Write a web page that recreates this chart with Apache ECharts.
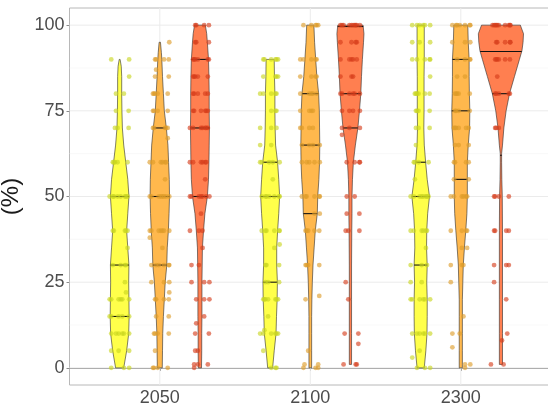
<!DOCTYPE html>
<html><head><meta charset="utf-8">
<script src="https://cdn.jsdelivr.net/npm/echarts@6/dist/echarts.min.js"></script>
<style>html,body{margin:0;padding:0;background:#fff}#c{width:548px;height:412px}</style>
</head><body><div id="c"></div><script>
// ---- data ----
const categories = ['2050', '2100', '2300'];
const yTicks = [0, 25, 50, 75, 100];
const yMinorGrid = [12.5, 37.5, 62.5, 87.5];

// violin density profiles: [value, relative width]
const prof2050Y = [[90,.02],[88,.07],[85,.09],[80,.09],[75,.10],[70,.12],[65,.18],[60,.27],[55,.36],[50,.41],[45,.36],[40,.31],[35,.36],[30,.41],[25,.40],[20,.41],[15,.42],[10,.40],[5,.31],[0,.18]];
const prof2050O = [[95,.03],[92,.07],[90,.09],[85,.12],[80,.16],[75,.20],[70,.29],[65,.36],[60,.39],[55,.42],[50,.43],[45,.41],[40,.38],[35,.33],[30,.31],[25,.24],[20,.20],[15,.16],[10,.13],[5,.12],[0,.11]];
const prof2050R = [[100,.24],[97.5,.30],[95,.33],[90,.38],[85,.40],[80,.41],[75,.41],[70,.42],[65,.41],[60,.40],[55,.38],[50,.33],[45,.22],[40,.16],[35,.11],[30,.10],[25,.09],[20,.09],[15,.09],[10,.08],[5,.08],[0,.07]];
const prof2100Y = [[90,.18],[85,.19],[80,.21],[75,.21],[70,.22],[65,.24],[60,.33],[55,.38],[50,.42],[45,.38],[40,.33],[35,.29],[30,.29],[25,.32],[20,.31],[15,.28],[10,.26],[5,.18],[0,.11]];
const prof2100O = [[100,.16],[95,.19],[90,.24],[85,.29],[80,.37],[75,.40],[70,.41],[65,.42],[60,.41],[55,.38],[50,.33],[45,.31],[40,.22],[35,.17],[30,.12],[25,.09],[20,.07],[15,.06],[10,.06],[5,.06],[0,.06]];
const prof2100R = [[100,.56],[97.5,.60],[95,.58],[90,.53],[85,.49],[80,.46],[75,.40],[70,.33],[65,.22],[60,.13],[55,.09],[50,.07],[45,.07],[40,.06],[30,.05],[20,.05],[10,.05],[1,.05]];
const prof2300Y = [[100,.16],[95,.16],[90,.16],[85,.15],[80,.15],[75,.15],[70,.14],[65,.16],[60,.22],[55,.29],[50,.39],[45,.31],[40,.27],[35,.26],[30,.29],[25,.27],[20,.29],[15,.29],[10,.28],[5,.23],[0,.16]];
const prof2300O = [[100,.31],[95,.33],[90,.37],[85,.37],[80,.38],[75,.40],[70,.39],[65,.33],[60,.29],[55,.29],[50,.29],[45,.27],[40,.22],[35,.16],[30,.11],[25,.09],[20,.07],[15,.07],[10,.07],[5,.07],[0,.07]];
const prof2300R = [[100,.86],[97.5,1.0],[95,.98],[92.5,.93],[90,.82],[85,.60],[80,.38],[75,.23],[70,.13],[65,.07],[62.5,.03],[60,.03],[55,.04],[50,.06],[40,.07],[30,.07],[20,.07],[10,.07],[1,.07]];

// quantile lines (25%, 50%, 75%)
const q2050Y = [15, 30, 50], q2050O = [30, 50, 70], q2050R = [50, 70, 90];
const q2100Y = [25, 50, 60], q2100O = [45, 65, 80], q2100R = [70, 80, 99.6];
const q2300Y = [30, 50, 60], q2300O = [55, 75, 90], q2300R = [62, 80, 92.3];

// observations: [value, count]
const pts2050Y = [[90,2],[85,1],[80,2],[75,2],[70,3],[60,5],[50,8],[40,5],[35,1],[30,4],[25,1],[22,1],[20,6],[15,5],[10,6],[5,3],[0,3]];
const pts2050O = [[95,1],[90,4],[87,1],[85,2],[80,5],[75,4],[70,5],[67,1],[60,6],[55,1],[50,8],[40,7],[38,1],[35,1],[30,6],[25,3],[22,1],[20,4],[15,2],[10,4],[5,1],[0,4]];
const pts2050R = [[100,4],[95,3],[90,6],[85,5],[80,5],[75,6],[70,7],[60,6],[55,1],[50,7],[45,1],[40,3],[35,1],[30,2],[25,3],[20,3],[15,1],[13,1],[10,2],[5,2],[1,3],[0,1]];
const pts2100Y = [[90,6],[85,4],[80,5],[75,3],[70,3],[65,2],[60,5],[55,1],[50,7],[40,6],[36,1],[35,1],[30,3],[25,3],[20,7],[15,1],[11,1],[10,6],[5,1],[0,3]];
const pts2100O = [[100,5],[90,5],[85,4],[80,5],[75,4],[70,4],[65,4],[60,5],[50,6],[45,2],[40,5],[30,4],[21,1],[20,1],[5,1],[1,2],[0,3]];
const pts2100R = [[100,10],[95,4],[90,5],[85,3],[80,6],[75,4],[70,3],[68,1],[60,4],[50,2],[45,2],[40,3],[25,1],[20,1],[10,2],[7,1],[1,3]];
const pts2300Y = [[100,6],[95,3],[90,5],[85,1],[80,6],[75,4],[70,3],[65,1],[60,4],[55,1],[50,8],[40,6],[35,1],[30,3],[25,2],[20,6],[10,6],[5,1],[3,1],[0,3]];
const pts2300O = [[100,7],[95,3],[90,4],[85,2],[80,5],[75,4],[70,6],[65,3],[60,4],[55,2],[50,6],[40,4],[35,2],[30,3],[25,1],[15,1],[10,2],[6,1],[1,2],[0,1]];
const pts2300R = [[100,10],[95,5],[90,6],[85,1],[80,5],[70,3],[50,4],[40,4],[30,3],[25,1],[20,1],[10,1],[8,1],[1,2]];

// ---- assembly ----
const profiles = [prof2050Y, prof2050O, prof2050R, prof2100Y, prof2100O, prof2100R, prof2300Y, prof2300O, prof2300R];
const quantiles = [q2050Y, q2050O, q2050R, q2100Y, q2100O, q2100R, q2300Y, q2300O, q2300R];
const points = [pts2050Y, pts2050O, pts2050R, pts2100Y, pts2100O, pts2100R, pts2300Y, pts2300O, pts2300R];

const fills = ['#ffff4a', '#ffb84d', '#ff7f50'];
const pointColors = ['rgba(200,214,30,0.78)', 'rgba(222,155,40,0.78)', 'rgba(214,60,25,0.78)'];
const DODGE = 0.8 / 3;
const HALF = 0.15;
const JIT = 0.07;
const jitterPattern = [-0.8, 0.6, -0.2, 0.9, 0.1, -0.55, 0.4, -0.95, 0.75, -0.35, 0.25, -0.65, 0.85, -0.1, 0.5, -0.45];

function widthAt(prof, y) {
  for (let i = 0; i < prof.length - 1; i++) {
    const [y0, w0] = prof[i], [y1, w1] = prof[i + 1];
    if (y <= y0 && y >= y1) {
      const t = (y0 - y) / ((y0 - y1) || 1);
      return w0 + (w1 - w0) * t;
    }
  }
  return y > prof[0][0] ? prof[0][1] : prof[prof.length - 1][1];
}

const violinItems = profiles.map((p, i) => {
  const c = Math.floor(i / 3), g = i % 3;
  return [c + 1 + (g - 1) * DODGE, 50, i];
});

const scatterSeries = [0, 1, 2].map(g => {
  const data = [];
  [0, 1, 2].forEach(c => {
    const list = points[c * 3 + g];
    let k = c * 5 + g * 3;
    list.forEach(([v, n], vi) => {
      for (let j = 0; j < n; j++) {
        const off = jitterPattern[(k + j * 3 + vi) % jitterPattern.length];
        data.push([c + 1 + (g - 1) * DODGE + off * JIT, v]);
      }
      k += 2;
    });
  });
  return {
    type: 'scatter', data, symbolSize: 4.8, z: 5,
    itemStyle: { color: pointColors[g], borderWidth: 0 },
    silent: true, animation: false
  };
});

const chart = echarts.init(document.getElementById('c'), null, { renderer: 'canvas' });
const FONT = 'Liberation Sans, Arial, Helvetica, sans-serif';
chart.setOption({
  animation: false,
  backgroundColor: '#ffffff',
  grid: { left: 69.5, top: 8, width: 481.6, height: 377, show: true, borderColor: '#b8b8b8', borderWidth: 1, backgroundColor: 'transparent', containLabel: false, outerBoundsMode: 'none' },
  xAxis: {
    type: 'value', min: 0.4, max: 3.6,
    axisLine: { show: true, lineStyle: { color: '#8c8c8c', width: 1 } },
    axisTick: { show: true, customValues: [1, 2, 3], length: 3, lineStyle: { color: '#8c8c8c' } },
    axisLabel: { customValues: [1, 2, 3], formatter: v => categories[Math.round(v) - 1], fontSize: 18, color: '#4d4d4d', fontFamily: FONT, margin: 4 },
    splitLine: { show: false }
  },
  yAxis: {
    type: 'value', min: -5, max: 105,
    name: '(%)', nameLocation: 'middle', nameRotate: 90, nameGap: 29,
    nameTextStyle: { fontSize: 24, color: '#1a1a1a', fontFamily: FONT },
    axisLine: { show: false },
    axisTick: { show: true, customValues: yTicks, length: 3, lineStyle: { color: '#8c8c8c' } },
    axisLabel: { customValues: yTicks, fontSize: 18, color: '#4d4d4d', fontFamily: FONT, margin: 5 },
    splitLine: { show: false }
  },
  series: [
    {
      type: 'custom', z: 1, silent: true, data: [[1, 50]],
      renderItem: (params, api) => {
        const cs = params.coordSys;
        const ch = [];
        yMinorGrid.forEach(v => { const y = api.coord([1, v])[1]; ch.push({ type: 'line', shape: { x1: cs.x, y1: y, x2: cs.x + cs.width, y2: y }, style: { stroke: '#f4f4f4', lineWidth: 0.6 } }); });
        yTicks.forEach(v => { const y = api.coord([1, v])[1]; ch.push({ type: 'line', shape: { x1: cs.x, y1: y, x2: cs.x + cs.width, y2: y }, style: { stroke: '#ebebeb', lineWidth: 1 } }); });
        [1, 2, 3].forEach(v => { const x = api.coord([v, 0])[0]; ch.push({ type: 'line', shape: { x1: x, y1: cs.y, x2: x, y2: cs.y + cs.height }, style: { stroke: '#ebebeb', lineWidth: 1 } }); });
        return { type: 'group', children: ch };
      }
    },
    {
      type: 'custom', z: 2, silent: true, data: violinItems,
      renderItem: (params, api) => {
        const i = api.value(2);
        const g = i % 3;
        const cx = api.value(0);
        const prof = profiles[i];
        const right = prof.map(([y, w]) => api.coord([cx + w * HALF, y]));
        const left = prof.slice().reverse().map(([y, w]) => api.coord([cx - w * HALF, y]));
        const ch = [{ type: 'polygon', shape: { points: right.concat(left) }, style: { fill: fills[g], stroke: '#2b2b2b', lineWidth: 0.6 } }];
        quantiles[i].forEach(q => {
          const w = widthAt(prof, q);
          const a = api.coord([cx - w * HALF, q]), b = api.coord([cx + w * HALF, q]);
          ch.push({ type: 'line', shape: { x1: a[0], y1: a[1], x2: b[0], y2: b[1] }, style: { stroke: '#111', lineWidth: 1.1 } });
        });
        return { type: 'group', children: ch };
      }
    },
    ...scatterSeries
  ]
});
</script></body></html>
